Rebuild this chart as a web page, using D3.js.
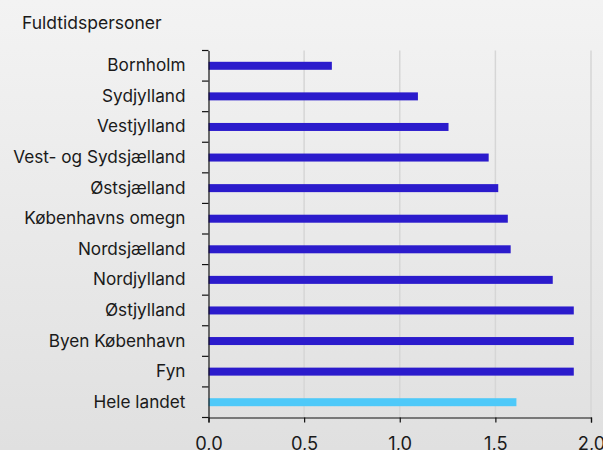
<!DOCTYPE html>
<html><head><meta charset="utf-8">
<script src="https://cdn.jsdelivr.net/npm/d3@7"></script>
<style>
html,body{margin:0;padding:0;}
body{width:603px;height:450px;overflow:hidden;}
</style></head>
<body>
<script>
const categories = ["Bornholm","Sydjylland","Vestjylland","Vest- og Sydsjælland","Østsjælland","Københavns omegn","Nordsjælland","Nordjylland","Østjylland","Byen København","Fyn","Hele landet"];
const values = [0.645, 1.095, 1.255, 1.465, 1.515, 1.565, 1.58, 1.80, 1.91, 1.91, 1.91, 1.61];
const xTicks = [0, 0.5, 1.0, 1.5, 2.0];
const xTickLabels = ["0,0", "0,5", "1,0", "1,5", "2,0"];
const title = "Fuldtidspersoner";

const W = 603, H = 450;
const svg = d3.select("body").append("svg").attr("width", W).attr("height", H);
const defs = svg.append("defs");
const grad = defs.append("linearGradient").attr("id","bg").attr("x1",0).attr("y1",0).attr("x2",0).attr("y2",1);
grad.append("stop").attr("offset","0%").attr("stop-color","#f3f3f3");
grad.append("stop").attr("offset","100%").attr("stop-color","#e0e0e0");
svg.append("rect").attr("width",W).attr("height",H).attr("fill","url(#bg)");

const x = d3.scaleLinear().domain([0,2]).range([208.5, 591]);
const y = d3.scaleBand().domain(categories).range([50.5, 417.5]).paddingInner(0).paddingOuter(0);
const font = "Inter, 'Liberation Sans', Arial, sans-serif";
const fs = 17.2;

// gridlines
svg.append("g").selectAll("line").data(xTicks.slice(1)).join("line")
  .attr("x1", d=>x(d)).attr("x2", d=>x(d)).attr("y1", 50.5).attr("y2", 417.5)
  .attr("stroke","#d6d6d6").attr("stroke-width",1.5);

// bars
const bh = 8;
svg.append("g").selectAll("rect").data(categories).join("rect")
  .attr("x", x(0)).attr("y", d=>y(d)+y.bandwidth()/2-bh/2)
  .attr("width", (d,i)=>x(values[i])-x(0)).attr("height", bh)
  .attr("fill", (d,i)=> d==="Hele landet" ? "#4ec9f9" : "#2b1bcc");

// y axis
const yAxis = d3.axisLeft(y).tickSize(0).tickPadding(23);
const gy = svg.append("g").attr("transform", `translate(${x(0)},0)`).call(yAxis);
gy.select(".domain").attr("stroke","#111").attr("stroke-width",1.2);
gy.selectAll("text").attr("font-family",font).attr("font-size",fs).attr("fill","#1a1a1a");
// boundary ticks between bands
const bounds = categories.map(c=>y(c)).concat([y.range()[1]]);
svg.append("g").selectAll("line").data(bounds).join("line")
  .attr("x1", x(0)-6.5).attr("x2", x(0)).attr("y1", d=>d).attr("y2", d=>d)
  .attr("stroke","#111").attr("stroke-width",1.2);

// x axis
const xAxis = d3.axisBottom(x).tickValues(xTicks).tickFormat((d,i)=>xTickLabels[i]).tickSize(5).tickPadding(15);
const gx = svg.append("g").attr("transform", `translate(0,417.5)`).call(xAxis);
gx.select(".domain").attr("stroke","#111").attr("stroke-width",1.2);
gx.selectAll(".tick line").attr("stroke","#111").attr("stroke-width",1.2);
gx.selectAll("text").attr("font-family",font).attr("font-size",18.3).attr("fill","#1a1a1a");

svg.append("text").attr("x",22).attr("y",29).text(title)
  .attr("font-family",font).attr("font-size",17.5).attr("fill","#1a1a1a");
</script>
</body></html>
